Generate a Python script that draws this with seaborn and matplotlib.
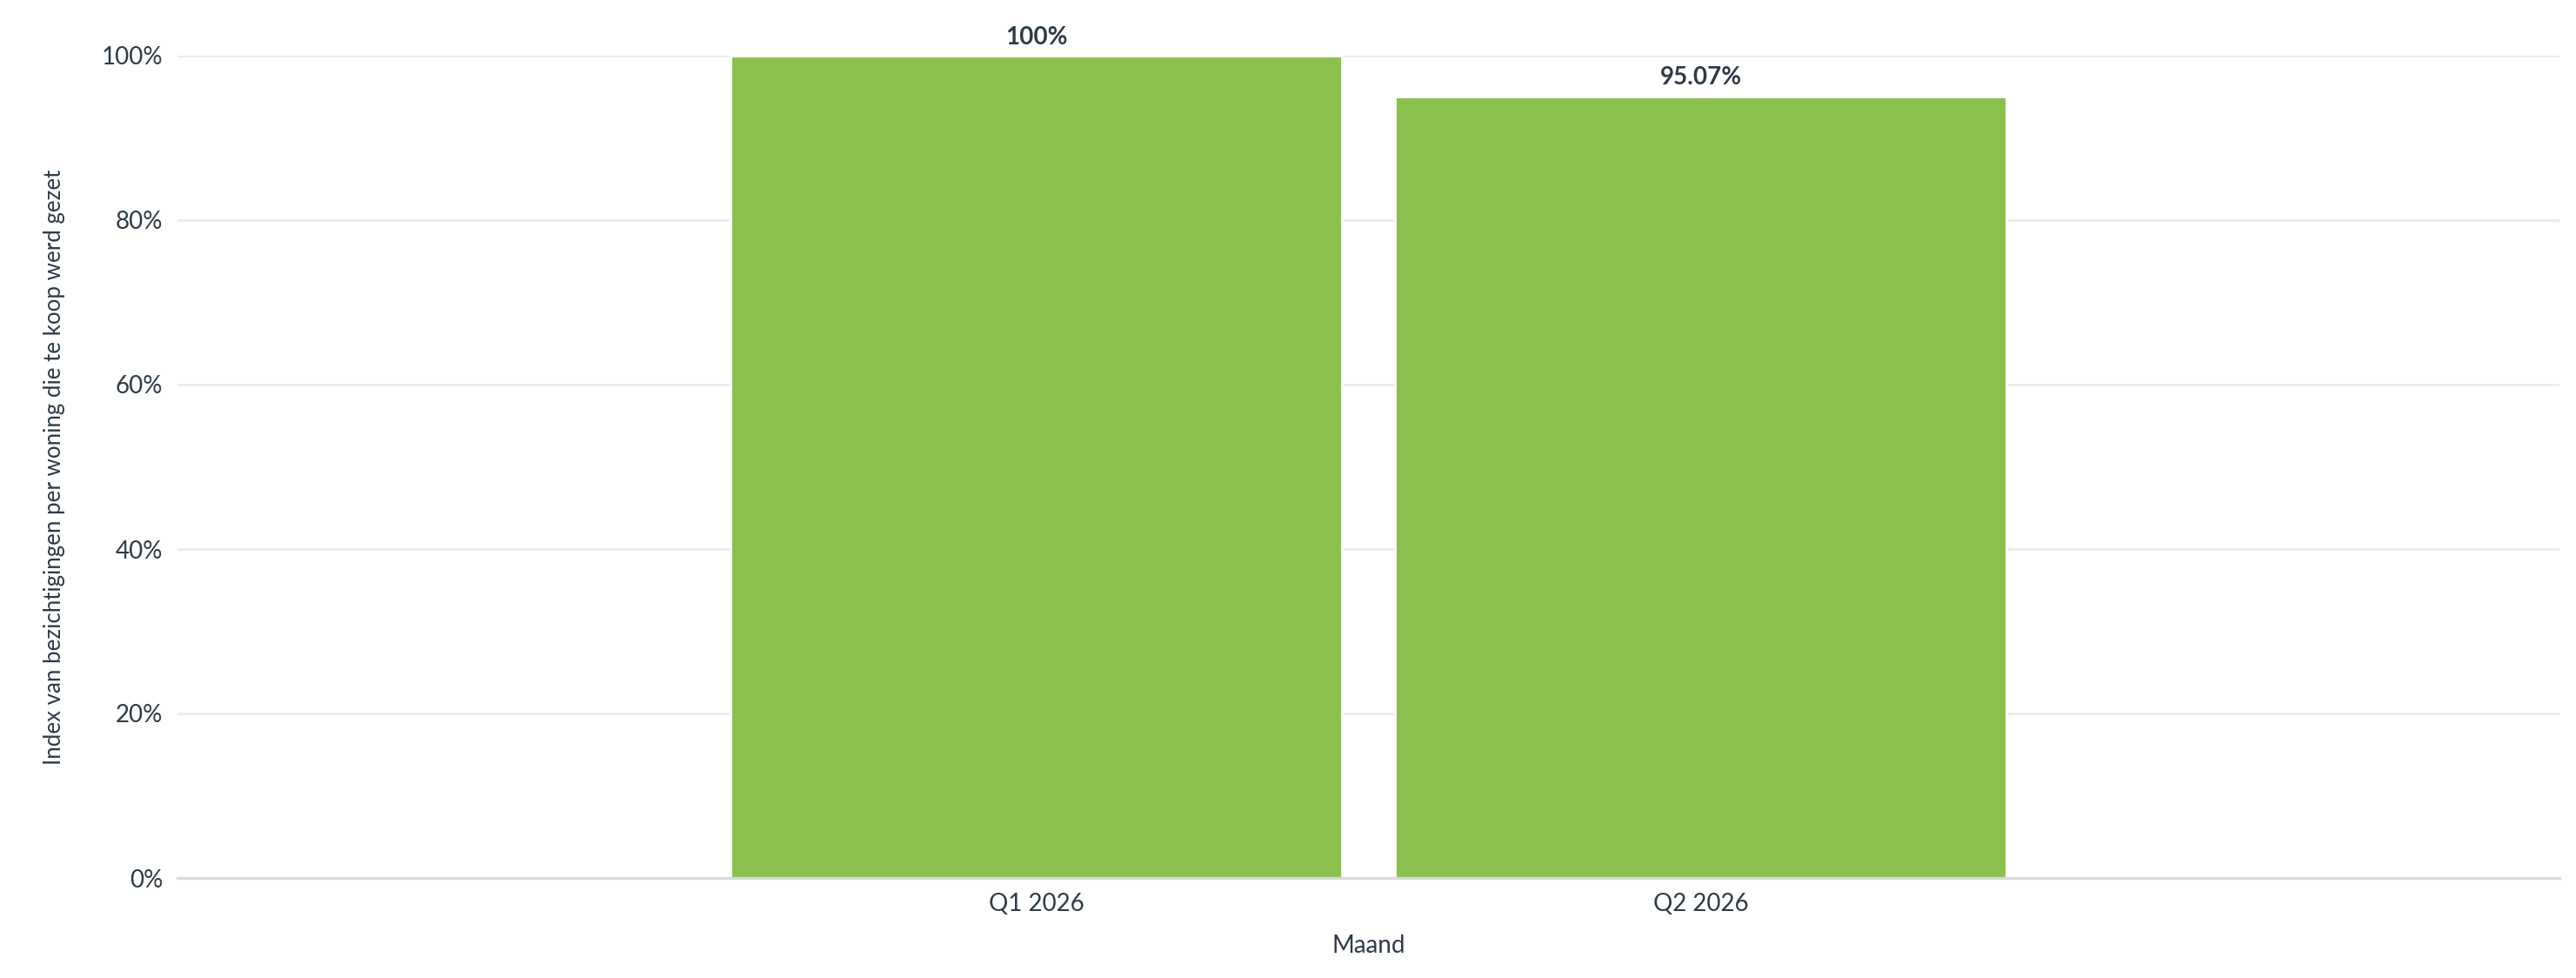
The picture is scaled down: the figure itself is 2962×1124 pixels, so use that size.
import matplotlib
matplotlib.use("Agg")
import matplotlib.pyplot as plt
import seaborn as sns
import pandas as pd
from matplotlib.ticker import FuncFormatter

kwartalen = ["Q1 2026", "Q2 2026"]
index_waarden = [100.0, 95.07]
labels = ["100%", "95.07%"]

sns.set_theme(style="white")
plt.rcParams["font.family"] = ["Lato", "DejaVu Sans"]

TEKST = "#2e3a48"
GROEN = "#8bc04f"

df = pd.DataFrame({"Maand": kwartalen, "Index": index_waarden})

fig = plt.figure(figsize=(14.81, 5.62), dpi=200)
ax = fig.add_axes([204 / 2962, 1 - 1009 / 1124, (2943 - 204) / 2962, (1009 - 64) / 1124])

sns.barplot(data=df, x="Maand", y="Index", color=GROEN, width=0.92, saturation=1, ax=ax)

ax.set_xlim(-1.293, 2.292)
ax.set_ylim(0, 100)
ax.set_yticks([0, 20, 40, 60, 80, 100])
ax.yaxis.set_major_formatter(FuncFormatter(lambda v, p: f"{v:.0f}%"))
ax.grid(axis="y", color="#ebebeb", linewidth=1.0)
ax.set_axisbelow(True)

for s in ["top", "right", "left"]:
    ax.spines[s].set_visible(False)
ax.spines["bottom"].set_color("#d9d9d9")
ax.spines["bottom"].set_linewidth(1.2)

ax.tick_params(axis="both", length=0, labelsize=10, colors=TEKST, pad=6)
ax.set_xlabel("Maand", fontsize=10, color=TEKST, labelpad=8)
ax.set_ylabel("Index van bezichtigingen per woning die te koop werd gezet",
              fontsize=9.3, color=TEKST, labelpad=15)

for cont in ax.containers:
    ax.bar_label(cont, labels=labels, padding=3, fontsize=10, fontweight="bold",
                 color=TEKST, clip_on=False)

fig.savefig("out.png", dpi=200, facecolor="white")
